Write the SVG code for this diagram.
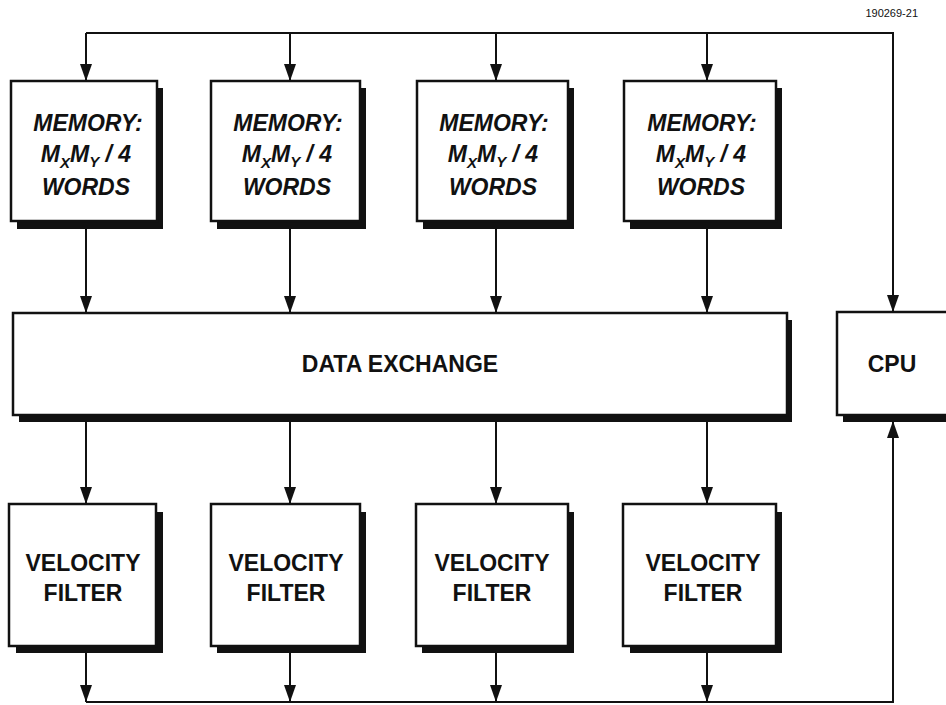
<svg xmlns="http://www.w3.org/2000/svg" width="946" height="705" viewBox="0 0 946 705">
<style>
.sh{fill:#111}
.bx{fill:#fff;stroke:#111;stroke-width:2.5}
.ln{fill:none;stroke:#111;stroke-width:2}
.t{font-family:"Liberation Sans",Arial,sans-serif;font-weight:bold;font-size:23px;fill:#111;text-anchor:middle}
.ti{font-style:italic}
.sub{font-size:15px}
.lab{font-family:"Liberation Sans",Arial,sans-serif;font-size:11px;fill:#111;text-anchor:end}
</style>
<defs>
<marker id="ah" markerWidth="12" markerHeight="18" refX="6" refY="17" orient="auto-start-reverse" markerUnits="userSpaceOnUse" viewBox="0 0 12 18">
<path d="M0,0 L12,0 L6,17 Z" fill="#111" transform="rotate(0)"/>
</marker>
<marker id="ad" markerWidth="12" markerHeight="17" refX="6" refY="17" orient="0" markerUnits="userSpaceOnUse" viewBox="0 0 12 17">
<path d="M0,0 L12,0 L6,17 Z" fill="#111"/>
</marker>
<marker id="au" markerWidth="12" markerHeight="17" refX="6" refY="0" orient="0" markerUnits="userSpaceOnUse" viewBox="0 0 12 17">
<path d="M0,17 L12,17 L6,0 Z" fill="#111"/>
</marker>
</defs>
<rect width="946" height="705" fill="#fff"/>
<text class="lab" x="918" y="17">190269-21</text>

<g id="connectors">
<path class="ln" d="M86,33 H893 V312"/>
<path class="ln" d="M86,33 V81" marker-end="url(#ad)"/>
<path class="ln" d="M290,33 V81" marker-end="url(#ad)"/>
<path class="ln" d="M496,33 V81" marker-end="url(#ad)"/>
<path class="ln" d="M707,33 V81" marker-end="url(#ad)"/>
<path class="ln" d="M893,33 V312" marker-end="url(#ad)"/>
<path class="ln" d="M86,229 V313" marker-end="url(#ad)"/>
<path class="ln" d="M290,229 V313" marker-end="url(#ad)"/>
<path class="ln" d="M496,229 V313" marker-end="url(#ad)"/>
<path class="ln" d="M707,229 V313" marker-end="url(#ad)"/>
<path class="ln" d="M86,422 V504" marker-end="url(#ad)"/>
<path class="ln" d="M290,422 V504" marker-end="url(#ad)"/>
<path class="ln" d="M496,422 V504" marker-end="url(#ad)"/>
<path class="ln" d="M707,422 V504" marker-end="url(#ad)"/>
<path class="ln" d="M86,653 V702" marker-end="url(#ad)"/>
<path class="ln" d="M290,653 V702" marker-end="url(#ad)"/>
<path class="ln" d="M496,653 V702" marker-end="url(#ad)"/>
<path class="ln" d="M707,653 V702" marker-end="url(#ad)"/>
<path class="ln" d="M86,702 H893 V421" marker-end="url(#au)"/>
</g>

<g id="mem1">
<rect class="sh" x="17" y="88" width="146" height="141"/>
<rect class="bx" x="11" y="81" width="146" height="140"/>
<text class="t ti" x="88" y="131">MEMORY:</text>
<text class="t ti" x="86" y="162">M<tspan class="sub" dy="6">X</tspan><tspan dy="-6">M</tspan><tspan class="sub" dy="5">Y</tspan><tspan dy="-5"> / 4</tspan></text>
<text class="t ti" x="86" y="195">WORDS</text>
</g>
<g id="mem2">
<rect class="sh" x="217" y="88" width="149" height="141"/>
<rect class="bx" x="211" y="81" width="149" height="140"/>
<text class="t ti" x="288" y="131">MEMORY:</text>
<text class="t ti" x="287" y="162">M<tspan class="sub" dy="6">X</tspan><tspan dy="-6">M</tspan><tspan class="sub" dy="5">Y</tspan><tspan dy="-5"> / 4</tspan></text>
<text class="t ti" x="287" y="195">WORDS</text>
</g>
<g id="mem3">
<rect class="sh" x="423" y="88" width="151" height="141"/>
<rect class="bx" x="417" y="81" width="151" height="140"/>
<text class="t ti" x="494" y="131">MEMORY:</text>
<text class="t ti" x="493" y="162">M<tspan class="sub" dy="6">X</tspan><tspan dy="-6">M</tspan><tspan class="sub" dy="5">Y</tspan><tspan dy="-5"> / 4</tspan></text>
<text class="t ti" x="493" y="195">WORDS</text>
</g>
<g id="mem4">
<rect class="sh" x="630" y="88" width="152" height="141"/>
<rect class="bx" x="624" y="81" width="152" height="140"/>
<text class="t ti" x="702" y="131">MEMORY:</text>
<text class="t ti" x="701" y="162">M<tspan class="sub" dy="6">X</tspan><tspan dy="-6">M</tspan><tspan class="sub" dy="5">Y</tspan><tspan dy="-5"> / 4</tspan></text>
<text class="t ti" x="701" y="195">WORDS</text>
</g>

<g id="dataexchange">
<rect class="sh" x="19" y="320" width="773" height="102"/>
<rect class="bx" x="13" y="313" width="774" height="102"/>
<text class="t" x="400" y="372">DATA EXCHANGE</text>
</g>

<g id="cpu">
<rect class="sh" x="843" y="320" width="110" height="102"/>
<rect class="bx" x="837" y="312" width="115" height="103"/>
<text class="t" x="892" y="372">CPU</text>
</g>

<g id="vf1">
<rect class="sh" x="16" y="512" width="147" height="141"/>
<rect class="bx" x="9" y="504" width="147" height="142"/>
<text class="t" x="83" y="571">VELOCITY</text>
<text class="t" x="83" y="601">FILTER</text>
</g>
<g id="vf2">
<rect class="sh" x="217" y="512" width="149" height="141"/>
<rect class="bx" x="211" y="504" width="149" height="142"/>
<text class="t" x="286" y="571">VELOCITY</text>
<text class="t" x="286" y="601">FILTER</text>
</g>
<g id="vf3">
<rect class="sh" x="422" y="512" width="152" height="141"/>
<rect class="bx" x="416" y="504" width="152" height="142"/>
<text class="t" x="492" y="571">VELOCITY</text>
<text class="t" x="492" y="601">FILTER</text>
</g>
<g id="vf4">
<rect class="sh" x="630" y="512" width="152" height="141"/>
<rect class="bx" x="623" y="504" width="153" height="142"/>
<text class="t" x="703" y="571">VELOCITY</text>
<text class="t" x="703" y="601">FILTER</text>
</g>
</svg>
